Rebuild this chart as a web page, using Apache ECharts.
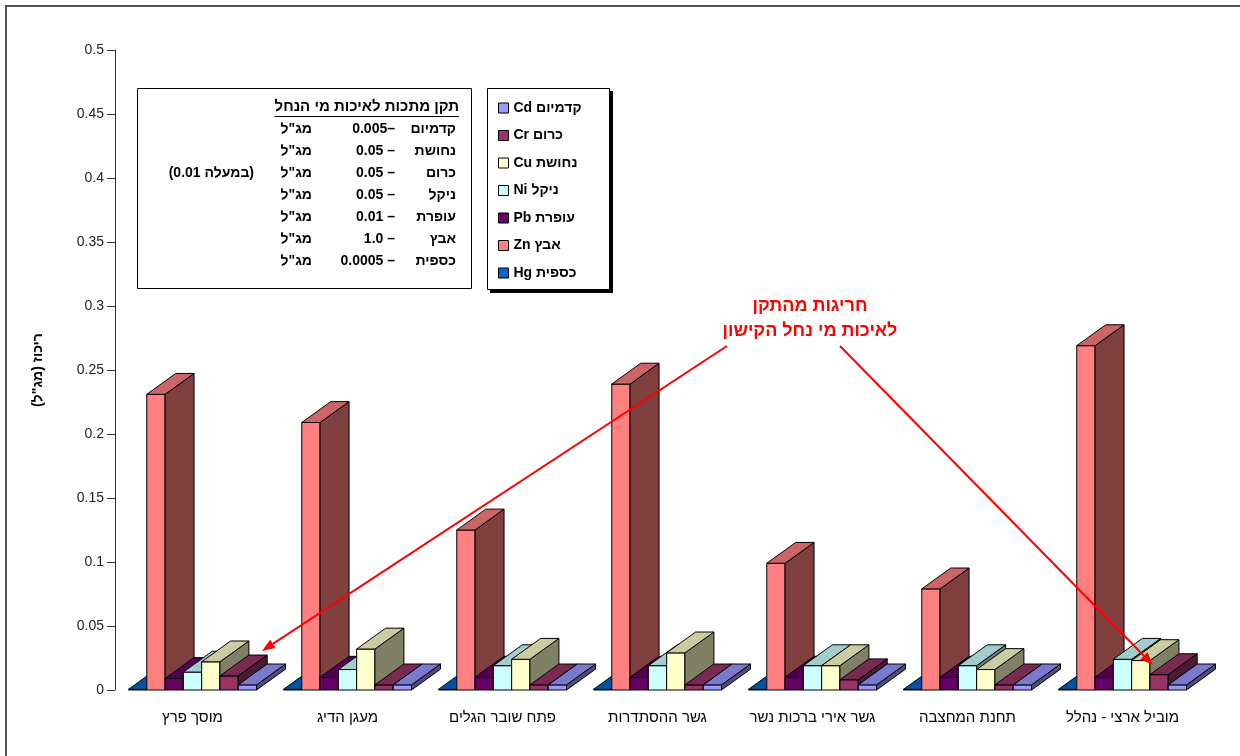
<!DOCTYPE html>
<html><head><meta charset="utf-8">
<script src="https://cdn.jsdelivr.net/npm/echarts@6/dist/echarts.min.js"></script>
<style>html,body{margin:0;padding:0;background:#fff}#c{width:1240px;height:756px}</style>
</head><body><div id="c"></div>
<script>
// ---------- data ----------
const categories = ['מוסך פרץ', 'מעגן הדיג', 'פתח שובר הגלים', 'גשר ההסתדרות', 'גשר אירי ברכות נשר', 'תחנת המחצבה', 'מוביל ארצי - נהלל'];
const seriesNames = ['Hg כספית', 'Zn אבץ', 'Pb עופרת', 'Ni ניקל', 'Cu נחושת', 'Cr כרום', 'Cd קדמיום'];
const legendOrder = ['Cd קדמיום', 'Cr כרום', 'Cu נחושת', 'Ni ניקל', 'Pb עופרת', 'Zn אבץ', 'Hg כספית'];
const hgValues = [0.0005, 0.0005, 0.0005, 0.0005, 0.0005, 0.0005, 0.0005];
const znValues = [0.231, 0.209, 0.125, 0.239, 0.099, 0.079, 0.269];
const pbValues = [0.009, 0.010, 0.010, 0.010, 0.010, 0.010, 0.010];
const niValues = [0.014, 0.016, 0.019, 0.019, 0.019, 0.019, 0.024];
const cuValues = [0.022, 0.032, 0.024, 0.029, 0.019, 0.016, 0.023];
const crValues = [0.011, 0.004, 0.004, 0.004, 0.008, 0.004, 0.012];
const cdValues = [0.004, 0.004, 0.004, 0.004, 0.004, 0.004, 0.004];
const yMin = 0, yMax = 0.5, yStep = 0.05;
const yAxisTitle = 'ריכוז (מג"ל)';
const stdTitle = 'תקן מתכות לאיכות מי הנחל';
const stdNames = ['קדמיום', 'נחושת', 'כרום', 'ניקל', 'עופרת', 'אבץ', 'כספית'];
const stdValues = ['0.005–', '0.05 –', '0.05 –', '0.05 –', '0.01 –', '1.0 –', '0.0005 –'];
const stdUnits = ['מג"ל', 'מג"ל', 'מג"ל', 'מג"ל', 'מג"ל', 'מג"ל', 'מג"ל'];
const stdNotes = ['', '', '(0.01 במעלה)', '', '', '', ''];
const noteLines = ['חריגות מהתקן', 'לאיכות מי נחל הקישון'];

// ---------- styling ----------
const colors = ['#0066CC', '#FF8080', '#660066', '#CCFFFF', '#FFFFCC', '#993366', '#9999FF'];
const allValues = [hgValues, znValues, pbValues, niValues, cuValues, crValues, cdValues];
const FONT = '"Liberation Sans", Arial, sans-serif';

function shade(hex, f) {
  const n = parseInt(hex.slice(1), 16);
  const r = Math.round(((n >> 16) & 255) * f), g = Math.round(((n >> 8) & 255) * f), b = Math.round((n & 255) * f);
  return 'rgb(' + r + ',' + g + ',' + b + ')';
}

function makeSeries(k) {
  const col = colors[k];
  const topCol = shade(col, 0.8), sideCol = shade(col, 0.5);
  return {
    type: 'custom',
    name: seriesNames[k],
    itemStyle: { color: col, borderColor: '#000', borderWidth: 1 },
    encode: { x: 0, y: 1 },
    data: allValues[k].map((v, i) => [i, v]),
    renderItem: function (params, api) {
      const cat = api.value(0), v = api.value(1);
      const b = api.coord([cat, 0]);
      const t = api.coord([cat, v]);
      const band = api.size([1, 0])[0];
      const w = band * 0.118;
      const x0 = b[0] - 3.5 * w + k * w, x1 = x0 + w;
      const dx = band * 0.187, dy = dx * 0.72;
      const yb = b[1], yt = t[1];
      const st = { stroke: '#000', lineWidth: 1 };
      return {
        type: 'group',
        children: [
          { type: 'polygon', shape: { points: [[x0, yt], [x1, yt], [x1, yb], [x0, yb]] }, style: Object.assign({ fill: col }, st) },
          { type: 'polygon', shape: { points: [[x1, yt], [x1 + dx, yt - dy], [x1 + dx, yb - dy], [x1, yb]] }, style: Object.assign({ fill: sideCol }, st) },
          { type: 'polygon', shape: { points: [[x0, yt], [x1, yt], [x1 + dx, yt - dy], [x0 + dx, yt - dy]] }, style: Object.assign({ fill: topCol }, st) }
        ]
      };
    }
  };
}

const BOXFONT = 'bold 14px ' + FONT;
const TITLEFONT = 'bold 15px ' + FONT;
const mctx = document.createElement('canvas').getContext('2d');
mctx.font = TITLEFONT;
const titleW = mctx.measureText(stdTitle).width;

function arrow(x1, y1, x2, y2) {
  const a = Math.atan2(y2 - y1, x2 - x1), L = 13, H = 5;
  const bx = x2 - L * Math.cos(a), by = y2 - L * Math.sin(a);
  const px = -Math.sin(a) * H, py = Math.cos(a) * H;
  return [
    { type: 'line', shape: { x1: x1, y1: y1, x2: bx, y2: by }, style: { stroke: '#FF0000', lineWidth: 2 }, z: 100 },
    { type: 'polygon', shape: { points: [[x2, y2], [bx + px, by + py], [bx - px, by - py]] }, style: { fill: '#FF0000' }, z: 100 }
  ];
}

const graphics = [];
graphics.push({ type: 'rect', shape: { x: 6, y: 6, width: 1300, height: 800 }, style: { fill: 'none', stroke: '#555', lineWidth: 2 }, silent: true });
// standards box
graphics.push({ type: 'rect', shape: { x: 137.5, y: 88.5, width: 334, height: 200 }, style: { fill: '#fff', stroke: '#000', lineWidth: 1 }, z: 50 });
graphics.push({ type: 'text', x: 459, y: 107, style: { text: stdTitle, font: TITLEFONT, fill: '#000', align: 'right', verticalAlign: 'middle' }, z: 51 });
graphics.push({ type: 'line', shape: { x1: 459 - titleW, y1: 116.5, x2: 459, y2: 116.5 }, style: { stroke: '#000', lineWidth: 1 }, z: 51 });
stdNames.forEach((n, i) => {
  const y = 129 + i * 22;
  graphics.push({ type: 'text', x: 456, y: y, style: { text: n, font: BOXFONT, fill: '#000', align: 'right', verticalAlign: 'middle' }, z: 51 });
  graphics.push({ type: 'text', x: 395, y: y, style: { text: stdValues[i], font: BOXFONT, fill: '#000', align: 'right', verticalAlign: 'middle' }, z: 51 });
  graphics.push({ type: 'text', x: 312, y: y, style: { text: stdUnits[i], font: BOXFONT, fill: '#000', align: 'right', verticalAlign: 'middle' }, z: 51 });
  if (stdNotes[i]) graphics.push({ type: 'text', x: 254, y: y, style: { text: stdNotes[i], font: BOXFONT, fill: '#000', align: 'right', verticalAlign: 'middle' }, z: 51 });
});
// legend box with shadow
graphics.push({ type: 'rect', shape: { x: 490, y: 91, width: 123, height: 202 }, style: { fill: '#000' }, z: 40 });
graphics.push({ type: 'rect', shape: { x: 487.5, y: 88.5, width: 122, height: 201 }, style: { fill: '#fff', stroke: '#000', lineWidth: 1 }, z: 41 });
// annotation
noteLines.forEach((t, i) => {
  graphics.push({ type: 'text', x: 810, y: 306 + i * 25, style: { text: t, font: 'bold 18px ' + FONT, fill: '#FF0000', align: 'center', verticalAlign: 'middle' }, z: 100 });
});
arrow(727, 346, 262, 651).forEach(g => graphics.push(g));
arrow(840, 346, 1153, 665).forEach(g => graphics.push(g));

const chart = echarts.init(document.getElementById('c'));
chart.setOption({
  backgroundColor: '#fff',
  animation: false,
  grid: { left: 115, right: 40, top: 50, bottom: 66, containLabel: false },
  legend: {
    data: legendOrder,
    orient: 'vertical',
    left: 493, top: 96,
    itemWidth: 10, itemHeight: 10, itemGap: 13.5,
    icon: 'rect',
    itemStyle: { borderColor: '#000', borderWidth: 1 },
    textStyle: { fontFamily: FONT, fontSize: 14, fontWeight: 'bold', color: '#000' },
    z: 60
  },
  xAxis: {
    type: 'category',
    data: categories,
    axisLine: { show: false },
    axisTick: { show: false },
    axisLabel: { interval: 0, margin: 20, fontFamily: FONT, fontSize: 15, color: '#000' },
    splitLine: { show: false }
  },
  yAxis: {
    type: 'value',
    min: yMin, max: yMax, interval: yStep,
    name: yAxisTitle + '\u200F',
    nameLocation: 'middle', nameRotate: 90, nameGap: 70,
    nameTextStyle: { fontFamily: FONT, fontSize: 14, fontWeight: 'bold', color: '#000' },
    axisLine: { show: true, lineStyle: { color: '#333', width: 1 } },
    axisTick: { show: true, length: 8, lineStyle: { color: '#333' } },
    axisLabel: { fontFamily: FONT, fontSize: 14, color: '#222', margin: 11 },
    splitLine: { show: false }
  },
  series: [0, 1, 2, 3, 4, 5, 6].map(makeSeries),
  graphic: graphics
});
</script></body></html>
